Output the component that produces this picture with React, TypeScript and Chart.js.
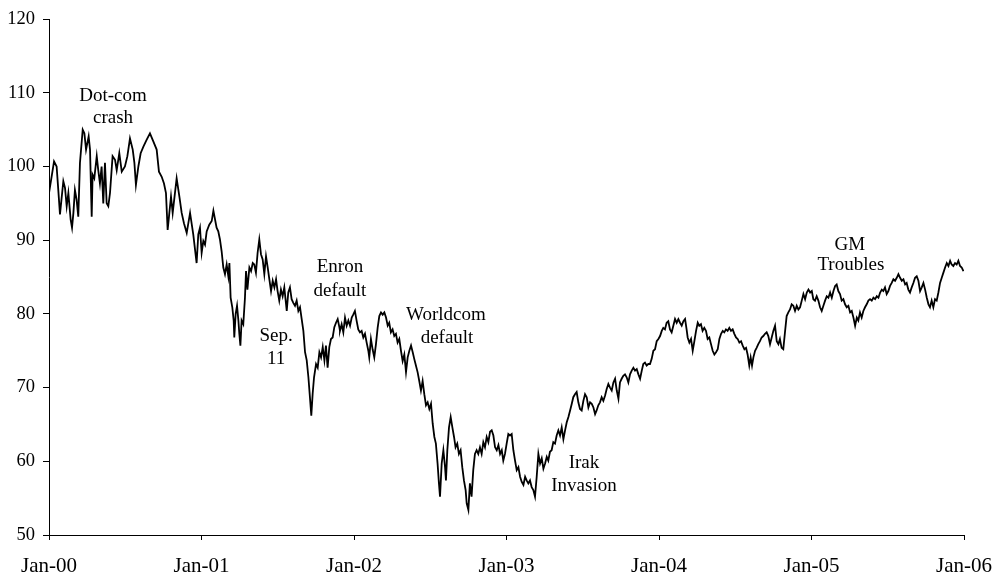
import React, { useEffect, useRef } from 'react';
import { Chart, registerables } from 'chart.js';

Chart.register(...registerables);

// x = years since Jan-2000, y = index value
const path2000: number[][] = [
  [0, 96.4], [0.017, 98.6], [0.033, 100.7], [0.05, 100.0], [0.061, 96.8], [0.072, 93.5], [0.094, 98.0], [0.105, 97.1],
  [0.116, 94.6], [0.127, 96.4], [0.142, 92.8], [0.151, 91.7], [0.16, 93.7], [0.17, 96.8], [0.181, 95.5], [0.192, 93.2],
  [0.203, 100.5], [0.221, 105.0], [0.232, 104.5], [0.243, 102.3], [0.26, 104.1], [0.269, 102.3], [0.28, 93.2], [0.286, 98.9],
  [0.297, 98.4], [0.313, 101.4], [0.323, 99.5], [0.334, 97.7], [0.345, 100.0], [0.356, 95.0], [0.367, 100.5], [0.378, 95.0],
  [0.389, 94.6], [0.4, 96.4], [0.417, 101.4], [0.433, 100.9], [0.444, 99.5], [0.461, 101.8], [0.477, 99.3], [0.498, 100.0],
  [0.514, 101.4], [0.531, 103.8], [0.549, 102.3], [0.56, 100.5], [0.57, 97.5], [0.586, 100.0], [0.601, 101.8], [0.619, 102.7],
  [0.64, 103.6], [0.662, 104.5], [0.684, 103.4], [0.706, 102.3], [0.721, 99.3], [0.739, 98.6], [0.754, 97.7], [0.767, 96.4],
  [0.778, 91.4], [0.8, 95.9], [0.811, 93.7], [0.837, 98.4], [0.855, 95.9], [0.87, 93.7], [0.885, 92.3], [0.903, 91.0],
  [0.925, 93.7],
];

const path2001: number[][] = [
  [0.946, 90.8], [0.968, 86.9], [0.979, 90.8], [0.99, 91.7], [1.001, 88.3], [1.012, 89.9], [1.023, 89.4], [1.034, 91.2],
  [1.051, 92.1], [1.067, 92.6], [1.078, 94.0], [1.099, 91.7], [1.11, 91.2], [1.121, 90.1], [1.132, 88.5], [1.143, 86.3],
  [1.154, 85.4], [1.165, 86.7], [1.176, 85.1], [1.183, 86.9], [1.191, 82.2], [1.202, 80.9], [1.211, 79.1], [1.215, 76.8],
  [1.224, 80.0], [1.233, 81.1], [1.242, 79.1], [1.248, 77.3], [1.255, 75.7], [1.263, 79.1], [1.274, 78.6], [1.285, 82.2],
  [1.292, 85.8], [1.301, 83.3], [1.314, 86.3], [1.325, 85.8], [1.336, 86.9], [1.346, 86.7], [1.357, 85.6], [1.368, 88.3],
  [1.379, 90.1], [1.39, 88.1], [1.401, 87.4], [1.412, 85.4], [1.423, 87.8], [1.434, 86.3], [1.445, 84.7], [1.456, 83.1],
  [1.467, 84.5], [1.478, 83.6], [1.489, 84.7], [1.499, 83.1], [1.51, 81.8], [1.521, 83.3], [1.532, 82.4], [1.543, 83.6],
  [1.559, 80.4], [1.569, 82.9], [1.58, 83.6], [1.591, 82.0], [1.602, 81.5], [1.613, 81.1], [1.624, 81.8], [1.635, 80.4],
  [1.646, 80.9], [1.657, 79.3], [1.668, 77.7], [1.679, 74.8], [1.69, 73.7], [1.701, 71.4], [1.711, 68.7], [1.72, 66.2],
  [1.729, 69.2], [1.738, 71.4], [1.751, 73.2], [1.762, 72.7], [1.773, 74.8], [1.784, 74.1], [1.795, 75.5], [1.806, 73.7],
  [1.816, 75.7], [1.827, 72.7], [1.838, 75.5], [1.849, 76.6], [1.86, 76.8], [1.871, 78.2], [1.882, 78.8], [1.893, 79.3],
  [1.904, 78.2],
];

const path2002: number[][] = [
  [1.908, 77.7], [1.919, 78.6], [1.93, 77.5], [1.941, 79.5], [1.952, 78.4], [1.963, 79.1], [1.974, 78.4], [1.985, 79.5],
  [1.995, 79.9], [2.006, 80.4], [2.017, 79.1], [2.028, 77.9], [2.039, 77.5], [2.05, 77.7], [2.061, 76.8], [2.072, 77.3],
  [2.083, 76.1], [2.094, 75.0], [2.1, 74.1], [2.111, 76.6], [2.122, 75.2], [2.133, 74.1], [2.144, 75.9], [2.155, 78.1],
  [2.166, 79.7], [2.177, 80.2], [2.188, 79.9], [2.199, 80.2], [2.21, 79.5], [2.221, 78.4], [2.231, 78.8], [2.242, 77.5],
  [2.253, 77.9], [2.264, 77.0], [2.275, 77.3], [2.286, 76.1], [2.297, 76.6], [2.308, 75.0], [2.319, 73.6], [2.33, 74.5],
  [2.341, 72.1], [2.352, 74.1], [2.363, 75.0], [2.374, 75.7], [2.385, 74.8], [2.395, 73.9], [2.406, 73.0], [2.417, 72.1],
  [2.428, 70.9], [2.439, 69.6], [2.45, 70.9], [2.461, 69.1], [2.472, 67.6], [2.483, 68.0], [2.494, 67.1], [2.505, 67.8],
  [2.516, 65.1], [2.527, 63.3], [2.537, 62.4], [2.548, 59.7], [2.557, 57.0], [2.564, 55.2], [2.575, 59.7], [2.586, 61.5],
  [2.597, 59.2], [2.603, 57.4], [2.612, 61.5], [2.623, 64.6], [2.634, 66.0], [2.645, 64.6], [2.656, 63.3], [2.666, 61.9],
  [2.677, 62.4], [2.688, 61.0], [2.699, 61.5], [2.71, 59.2], [2.721, 57.4], [2.732, 56.1], [2.739, 54.3], [2.75, 53.4],
  [2.76, 57.0], [2.771, 55.2], [2.782, 58.8], [2.793, 61.0], [2.804, 61.5], [2.815, 61.0], [2.826, 61.9], [2.837, 61.0],
  [2.848, 62.6], [2.859, 61.9], [2.87, 63.3], [2.881, 62.6],
];

const path2003: number[][] = [
  [2.892, 64.0], [2.903, 64.2], [2.914, 63.5], [2.925, 61.9], [2.936, 61.5], [2.947, 62.2], [2.958, 61.0], [2.969, 61.5],
  [2.979, 60.1], [2.99, 61.0], [3.001, 62.4], [3.012, 63.7], [3.023, 63.5], [3.034, 63.7], [3.045, 61.5], [3.056, 60.1],
  [3.067, 58.8], [3.078, 59.2], [3.089, 57.9], [3.1, 57.2], [3.111, 56.8], [3.122, 57.9], [3.132, 57.4], [3.143, 57.0],
  [3.154, 57.4], [3.165, 56.5], [3.176, 56.1], [3.187, 55.2], [3.198, 57.9], [3.209, 61.0], [3.22, 59.7], [3.231, 60.4],
  [3.242, 59.0], [3.253, 59.7], [3.264, 60.6], [3.274, 60.1], [3.285, 61.3], [3.296, 61.5], [3.307, 62.6], [3.318, 62.4],
  [3.329, 63.5], [3.34, 64.2], [3.351, 63.5], [3.362, 64.6], [3.373, 63.0], [3.384, 64.2], [3.395, 65.3], [3.406, 66.0],
  [3.417, 66.9], [3.428, 67.8], [3.438, 68.7], [3.449, 69.1], [3.46, 69.4], [3.471, 68.0], [3.482, 67.1], [3.493, 66.9],
  [3.504, 68.2], [3.515, 69.1], [3.526, 68.7], [3.537, 67.3], [3.548, 68.0], [3.559, 67.8], [3.57, 67.3], [3.581, 66.4],
  [3.591, 66.9], [3.602, 67.6], [3.613, 68.0], [3.624, 68.7], [3.635, 68.2], [3.646, 68.9], [3.657, 69.8], [3.668, 70.5],
  [3.679, 70.0], [3.69, 69.6], [3.701, 70.7], [3.712, 71.2], [3.723, 69.6], [3.734, 68.5], [3.744, 70.7], [3.755, 71.2],
  [3.766, 71.6], [3.777, 71.8], [3.788, 71.4], [3.799, 70.7], [3.81, 71.8], [3.821, 72.3], [3.832, 72.7], [3.843, 72.3],
  [3.854, 72.5], [3.865, 71.8], [3.876, 71.2], [3.887, 72.3], [3.897, 73.2], [3.908, 73.4], [3.919, 73.0], [3.93, 73.2],
];

const path2004: number[][] = [
  [3.941, 73.2], [3.952, 73.9], [3.963, 75.0], [3.974, 75.2], [3.985, 76.3], [3.996, 76.6], [4.007, 77.0], [4.018, 77.7],
  [4.028, 78.1], [4.039, 77.9], [4.05, 78.8], [4.061, 79.0], [4.072, 77.9], [4.083, 77.5], [4.094, 78.4], [4.105, 79.3],
  [4.116, 78.8], [4.127, 79.3], [4.138, 78.8], [4.149, 78.4], [4.16, 79.0], [4.171, 79.3], [4.181, 77.9], [4.188, 76.8],
  [4.199, 76.1], [4.21, 76.6], [4.221, 75.0], [4.232, 76.3], [4.243, 77.7], [4.254, 78.8], [4.264, 78.4], [4.275, 78.6],
  [4.286, 77.7], [4.297, 78.1], [4.308, 77.7], [4.319, 76.6], [4.33, 76.8], [4.341, 75.9], [4.352, 75.0], [4.363, 74.5],
  [4.374, 74.8], [4.385, 75.2], [4.396, 76.6], [4.407, 77.3], [4.418, 77.7], [4.428, 77.5], [4.439, 77.9], [4.45, 77.7],
  [4.461, 78.1], [4.472, 77.7], [4.483, 77.9], [4.494, 77.3], [4.505, 76.8], [4.516, 76.6], [4.527, 76.1], [4.538, 76.3],
  [4.549, 75.7], [4.56, 75.2], [4.571, 75.4], [4.581, 74.5], [4.592, 73.0], [4.601, 74.1], [4.61, 73.0], [4.619, 74.1],
  [4.63, 75.0], [4.64, 75.4], [4.651, 75.9], [4.662, 76.3], [4.673, 76.8], [4.684, 77.0], [4.695, 77.3], [4.706, 77.5],
  [4.717, 77.0], [4.728, 75.9], [4.739, 76.8], [4.75, 77.7], [4.761, 78.4], [4.772, 76.3], [4.783, 75.9], [4.793, 76.6],
  [4.804, 75.4], [4.815, 75.2], [4.826, 77.5], [4.837, 79.7], [4.848, 80.2], [4.859, 80.6], [4.87, 81.3], [4.881, 81.1],
  [4.892, 80.4], [4.903, 81.1], [4.914, 80.6],
];

const path2005: number[][] = [
  [4.925, 80.9], [4.936, 81.8], [4.947, 82.7], [4.958, 82.0], [4.969, 82.9], [4.98, 83.3], [4.991, 82.9], [5.002, 83.1],
  [5.012, 82.0], [5.023, 81.8], [5.034, 82.4], [5.045, 81.8], [5.056, 80.9], [5.067, 80.4], [5.078, 81.1], [5.089, 81.8],
  [5.1, 82.4], [5.111, 82.2], [5.122, 82.9], [5.133, 82.2], [5.144, 83.1], [5.155, 83.8], [5.165, 84.0], [5.176, 83.1],
  [5.187, 82.7], [5.198, 81.8], [5.209, 82.0], [5.22, 81.3], [5.231, 80.9], [5.242, 81.1], [5.253, 80.2], [5.264, 80.4],
  [5.275, 79.5], [5.286, 78.4], [5.297, 79.5], [5.307, 79.1], [5.318, 80.2], [5.329, 79.5], [5.34, 80.4], [5.351, 80.9],
  [5.362, 81.3], [5.373, 81.8], [5.384, 82.0], [5.395, 81.8], [5.406, 82.2], [5.417, 82.0], [5.428, 82.4], [5.439, 82.2],
  [5.45, 82.9], [5.461, 83.3], [5.471, 83.1], [5.482, 83.6], [5.493, 82.7], [5.504, 83.1], [5.515, 83.8], [5.526, 84.2],
  [5.537, 84.7], [5.548, 84.5], [5.559, 84.9], [5.57, 85.4], [5.581, 84.9], [5.592, 84.5], [5.603, 84.7], [5.614, 84.0],
  [5.624, 84.2], [5.635, 83.3], [5.646, 82.9], [5.657, 83.6], [5.668, 84.2], [5.679, 84.9], [5.69, 85.1], [5.701, 84.5],
  [5.712, 83.1], [5.723, 83.6], [5.734, 84.2], [5.745, 83.3], [5.756, 82.2], [5.767, 81.3], [5.777, 80.9], [5.788, 81.8],
  [5.799, 80.9], [5.81, 82.0], [5.821, 81.8], [5.832, 82.9], [5.843, 84.2], [5.854, 84.9], [5.865, 85.6], [5.876, 86.3],
  [5.887, 86.9], [5.898, 86.5], [5.909, 87.2], [5.919, 86.7], [5.93, 86.5], [5.941, 86.9], [5.952, 86.7], [5.963, 87.2],
  [5.974, 86.5], [5.985, 86.3], [5.996, 85.8],
];

const xTickLabels = ['Jan-00', 'Jan-01', 'Jan-02', 'Jan-03', 'Jan-04', 'Jan-05', 'Jan-06'];
const yMin = 50;
const yMax = 120;
const yStep = 10;

// annotation text lines, anchored in data units (years, value)
const noteTexts = ['Dot-com', 'crash', 'Sep.', '11', 'Enron', 'default', 'Worldcom', 'default', 'Irak', 'Invasion', 'GM', 'Troubles'];
const noteX = [0.42, 0.42, 1.489, 1.489, 1.908, 1.908, 2.603, 2.61, 3.508, 3.508, 5.252, 5.258];
const noteY = [109.6, 106.6, 77.0, 73.9, 86.3, 83.1, 79.8, 76.7, 59.7, 56.6, 89.4, 86.6];

const FONT = '"Liberation Serif", "Times New Roman", serif';

const notesPlugin = {
  id: 'notes',
  afterDatasetsDraw(chart: any) {
    const { ctx, scales } = chart;
    const xs = scales.x;
    const ys = scales.y;
    ctx.save();
    ctx.font = `19px ${FONT}`;
    ctx.fillStyle = '#000';
    ctx.textAlign = 'center';
    ctx.textBaseline = 'middle';
    noteTexts.forEach((t, i) => {
      ctx.fillText(t, xs.getPixelForValue(noteX[i]), ys.getPixelForValue(noteY[i]));
    });
    ctx.restore();
  },
};

export default function App() {
  const ref = useRef<HTMLCanvasElement | null>(null);
  useEffect(() => {
    document.body.style.margin = '0';
    const points = [...path2000, ...path2001, ...path2002, ...path2003, ...path2004, ...path2005].map(([x, y]) => ({ x, y }));
    const chart = new Chart(ref.current as HTMLCanvasElement, {
      type: 'line',
      data: {
        datasets: [
          {
            data: points,
            borderColor: '#000',
            borderWidth: 1.8,
            pointRadius: 0,
            tension: 0,
            fill: false,
          },
        ],
      },
      options: {
        animation: false,
        responsive: false,
        devicePixelRatio: 1,
        layout: { padding: { left: 0, right: 42, top: 17, bottom: 0 } },
        plugins: { legend: { display: false }, tooltip: { enabled: false } },
        scales: {
          x: {
            type: 'linear',
            min: 0,
            max: 6,
            afterFit: (s: any) => { s.height = 47; },
            ticks: {
              stepSize: 1,
              color: '#000',
              padding: 14,
              font: { family: FONT, size: 21 },
              maxRotation: 0,
              callback: (v: any) => xTickLabels[Math.round(Number(v))] ?? '',
            },
            grid: { display: true, drawOnChartArea: false, drawTicks: true, tickLength: 5, color: '#000' },
            border: { display: true, color: '#000', width: 1 },
          },
          y: {
            type: 'linear',
            min: yMin,
            max: yMax,
            afterFit: (s: any) => { s.width = 49; },
            ticks: {
              stepSize: yStep,
              color: '#000',
              padding: 8,
              font: { family: FONT, size: 18.5 },
            },
            grid: { display: true, drawOnChartArea: false, drawTicks: true, tickLength: 6, color: '#000' },
            border: { display: true, color: '#000', width: 1 },
          },
        },
      },
      plugins: [notesPlugin],
    });
    return () => chart.destroy();
  }, []);
  return <canvas ref={ref} width={1006} height={582} style={{ display: 'block' }} />;
}
